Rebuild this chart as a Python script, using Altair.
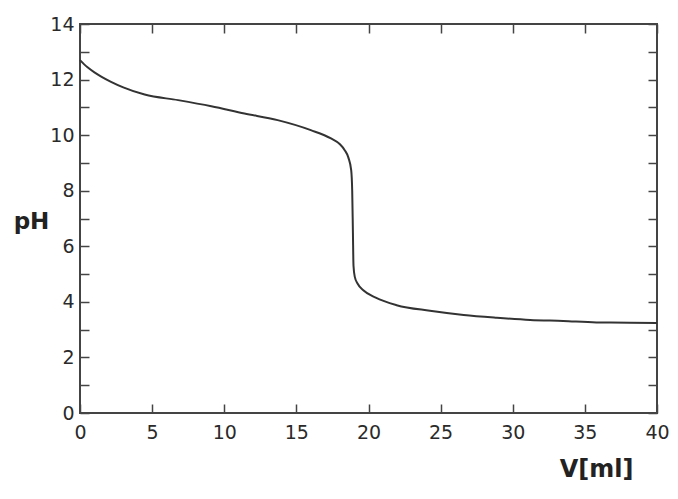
import altair as alt
import pandas as pd

volume_ml = [0, 0.5, 1, 1.5, 2.15, 3, 4.48, 6.8, 9.1, 11.4, 13.7, 16.0, 17.4, 18.0,
             18.35, 18.6, 18.8, 18.87, 18.92, 18.96, 19.05, 19.25, 19.64, 20.5, 21.95,
             24.26, 26.6, 28.9, 31.2, 33.5, 35.8, 38.1, 40]
ph_values = [12.70, 12.45, 12.26, 12.10, 11.92, 11.72, 11.46, 11.26, 11.04, 10.78,
             10.54, 10.18, 9.88, 9.68, 9.46, 9.2, 8.74, 8.0, 6.5, 5.3, 4.9, 4.65,
             4.42, 4.15, 3.88, 3.68, 3.53, 3.43, 3.35, 3.31, 3.26, 3.25, 3.24]

x_ticks = [0, 5, 10, 15, 20, 25, 30, 35, 40]
y_ticks = list(range(0, 15))

df = pd.DataFrame({"V": volume_ml, "pH": ph_values})

FONT = "DejaVu Sans"
TICK = 9
AXIS_COLOR = "#444444"
LABEL_COLOR = "#2a2a2a"

base = alt.Chart(df)

xs = alt.Scale(domain=[0, 40], nice=False, zero=False)
ys = alt.Scale(domain=[0, 14], nice=False, zero=False)

main = base.mark_line(color="#333333", strokeWidth=2, interpolate="monotone").encode(
    x=alt.X("V:Q", scale=xs, axis=alt.Axis(
        orient="bottom", values=x_ticks, domain=False, grid=False,
        tickSize=TICK, offset=-TICK, tickColor=AXIS_COLOR, tickWidth=1.5,
        labelFlush=False,
        labelFont=FONT, labelFontSize=19, labelColor=LABEL_COLOR, labelPadding=10,
        title="V[ml]", titleFont=FONT, titleFontSize=24, titleFontWeight="bold",
        titleColor="#222222", titleAnchor="end", titleAlign="right",
        titleX=553, titleY=65, titleBaseline="middle")),
    y=alt.Y("pH:Q", scale=ys, axis=alt.Axis(
        orient="left", values=y_ticks, domain=False, grid=False,
        tickSize=TICK, offset=-TICK, tickColor=AXIS_COLOR, tickWidth=1.5,
        labelFlush=False,
        labelExpr="datum.value % 2 == 0 ? datum.label : ''",
        labelFont=FONT, labelFontSize=19, labelColor=LABEL_COLOR, labelPadding=6,
        title="pH", titleAngle=0, titleFont=FONT, titleFontSize=23,
        titleFontWeight="bold", titleColor="#222222", titleAlign="center",
        titleBaseline="middle", titleX=-58, titleY=197)),
)

mirror = base.mark_line(opacity=0).encode(
    x=alt.X("V:Q", scale=xs, axis=alt.Axis(
        orient="top", values=x_ticks, domain=False, grid=False, labels=False,
        tickSize=TICK, offset=-TICK, tickColor=AXIS_COLOR, tickWidth=1.5, title=None)),
    y=alt.Y("pH:Q", scale=ys, axis=alt.Axis(
        orient="right", values=y_ticks, domain=False, grid=False, labels=False,
        tickSize=TICK, offset=-TICK, tickColor=AXIS_COLOR, tickWidth=1.5, title=None)),
)

chart = alt.layer(main, mirror).resolve_scale(x="independent", y="independent").properties(
    width=577, height=389,
    autosize=alt.AutoSizeParams(type="none"),
    padding={"left": 72, "top": 16, "right": 13, "bottom": 78},
    background="white",
).configure_view(stroke=AXIS_COLOR, strokeWidth=2)

chart.save("out.html", embed_options={"renderer": "svg", "actions": False})
